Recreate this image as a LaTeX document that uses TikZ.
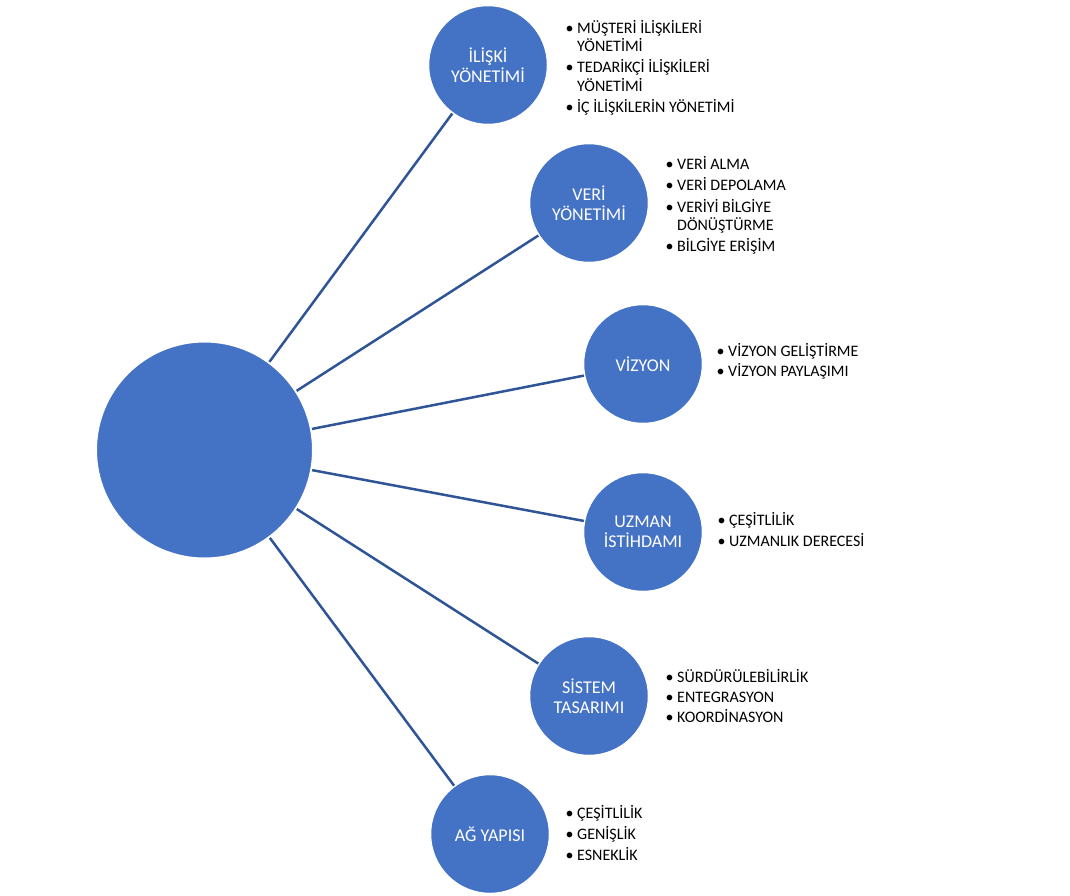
\documentclass[tikz,border=0pt]{standalone}
\usepackage{fontspec}
\setmainfont{Carlito}
\usepackage{array}
\definecolor{cfill}{HTML}{4472C4}
\definecolor{cline}{HTML}{2F5597}
\tikzset{
  hub/.style={circle, fill=cfill, draw=white, line width=2pt, minimum size=217pt, inner sep=0pt},
  topic/.style={circle, fill=cfill, draw=white, line width=1.5pt, minimum size=119pt, inner sep=0pt,
    text=white, align=center, font=\fontsize{18}{19.8}\selectfont},
  conn/.style={draw=cline, line width=2.5pt},
  blist/.style={anchor=base west, inner sep=0pt, font=\fontsize{16}{17.6}\selectfont, text=black}
}
\newcommand\bitem[1]{\makebox[11.5pt][l]{•}#1}
\newcommand\bcont[1]{\hspace*{11.5pt}#1}
\begin{document}
\begin{tikzpicture}[x=1pt,y=-1pt]
\fill[white] (0,0) rectangle (1070,895);
\useasboundingbox (0,0) rectangle (1070,895);

\node[hub] (hub) at (204.5,450) {};
\node[topic] (t1) at (488,65) {İLİŞKİ\\YÖNETİMİ};
\node[topic] (t2) at (589,203) {VERİ\\YÖNETİMİ};
\node[topic] (t3) at (643,364) {VİZYON};
\node[topic] (t4) at (643,532) {UZMAN\\İSTİHDAMI};
\node[topic] (t5) at (589,696) {SİSTEM\\TASARIMI};
\node[topic] (t6) at (490,834) {AĞ YAPISI};

\foreach \t in {t1,t2,t3,t4,t5,t6} \draw[conn] (hub) -- (\t);

\node[blist] (l1) at (565.5,33) {\begin{tabular}[t]{@{}l@{}}
\bitem{MÜŞTERİ İLİŞKİLERİ}\\ \bcont{YÖNETİMİ}\\[3pt]
\bitem{TEDARİKÇİ İLİŞKİLERİ}\\ \bcont{YÖNETİMİ}\\[3pt]
\bitem{İÇ İLİŞKİLERİN YÖNETİMİ}
\end{tabular}};
\node[blist] (l2) at (665.5,169.5) {\begin{tabular}[t]{@{}l@{}}
\bitem{VERİ ALMA}\\[3pt]
\bitem{VERİ DEPOLAMA}\\[3pt]
\bitem{VERİYİ BİLGİYE}\\ \bcont{DÖNÜŞTÜRME}\\[3pt]
\bitem{BİLGİYE ERİŞİM}
\end{tabular}};
\node[blist] (l3) at (716.5,356.5) {\begin{tabular}[t]{@{}l@{}}
\bitem{VİZYON GELİŞTİRME}\\[2pt]
\bitem{VİZYON PAYLAŞIMI}
\end{tabular}};
\node[blist] (l4) at (717.5,525.5) {\begin{tabular}[t]{@{}l@{}}
\bitem{ÇEŞİTLİLİK}\\[2.5pt]
\bitem{UZMANLIK DERECESİ}
\end{tabular}};
\node[blist] (l5) at (665.5,682) {\begin{tabular}[t]{@{}l@{}}
\bitem{SÜRDÜRÜLEBİLİRLİK}\\[2.5pt]
\bitem{ENTEGRASYON}\\[2.5pt]
\bitem{KOORDİNASYON}
\end{tabular}};
\node[blist] (l6) at (565.5,818.5) {\begin{tabular}[t]{@{}l@{}}
\bitem{ÇEŞİTLİLİK}\\[2.5pt]
\bitem{GENİŞLİK}\\[2.5pt]
\bitem{ESNEKLİK}
\end{tabular}};
\end{tikzpicture}
\end{document}
